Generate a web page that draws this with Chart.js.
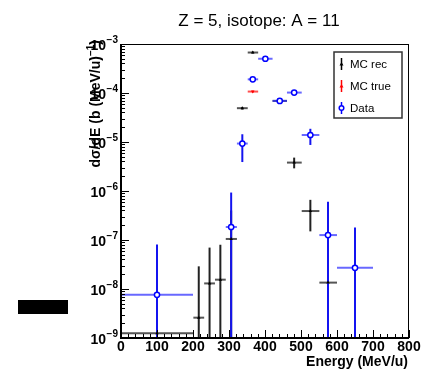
<!DOCTYPE html>
<html><head><meta charset="utf-8">
<script src="https://cdn.jsdelivr.net/npm/chart.js@4/dist/chart.umd.min.js"></script>
<style>html,body{margin:0;padding:0;background:#fff}#wrap{width:422px;height:369px;position:relative}</style>
</head><body><div id="wrap"><canvas id="c" width="422" height="369"></canvas></div>
<script>
// ---- data ----
const recX   = [100, 216, 246, 276, 306, 337, 366, 441, 481, 526, 575];
const recXLo = [0, 201, 231, 261, 291, 322, 352, 421, 461, 502, 551];
const recXHi = [200, 231, 261, 291, 322, 352, 381, 461, 502, 551, 600];
const recY   = [1.25e-9, 2.6e-9, 1.3e-8, 1.55e-8, 1.05e-7, 4.9e-5, 6.7e-4, 6.9e-5, 3.8e-6, 3.9e-7, 1.35e-8];
const recYLo = [1e-10, 1e-10, 1e-10, 1e-10, 1e-10, 4.6e-5, 6.4e-4, 6.2e-5, 2.9e-6, 1.5e-7, 1.0e-8];
const recYHi = [2e-9, 2.9e-8, 7e-8, 8e-8, 4e-7, 5.2e-5, 7.0e-4, 7.6e-5, 4.8e-6, 6.6e-7, 1.8e-8];

const trueX   = [366];
const trueXLo = [352];
const trueXHi = [381];
const trueY   = [1.07e-4];
const trueYLo = [1.03e-4];
const trueYHi = [1.11e-4];

const dataX   = [100, 306, 337, 366, 401, 441, 481, 526, 575, 650];
const dataXLo = [0, 291, 322, 352, 381, 421, 461, 502, 551, 600];
const dataXHi = [200, 322, 352, 381, 421, 461, 502, 551, 600, 700];
const dataY   = [7.6e-9, 1.84e-7, 9.3e-6, 1.9e-4, 5.0e-4, 6.9e-5, 1.02e-4, 1.39e-5, 1.26e-7, 2.7e-8];
const dataYLo = [1e-10, 1e-10, 3.9e-6, 1.8e-4, 4.8e-4, 6.0e-5, 9.6e-5, 8.7e-6, 1e-10, 1e-10];
const dataYHi = [8.1e-8, 9.3e-7, 1.44e-5, 2.0e-4, 5.2e-4, 7.8e-5, 1.08e-4, 1.86e-5, 6e-7, 1.8e-7];

const xTicks = [0, 100, 200, 300, 400, 500, 600, 700, 800];
const yExps  = [-3, -4, -5, -6, -7, -8, -9];
const titleText = 'Z = 5, isotope: A = 11';
const xTitle = 'Energy (MeV/u)';
const legendLabels = ['MC rec', 'MC true', 'Data'];

function pts(xs, ys, xlo, xhi, ylo, yhi) {
  return xs.map((x, i) => ({x: x, y: ys[i], xlo: xlo[i], xhi: xhi[i], ylo: ylo[i], yhi: yhi[i]}));
}

const FONT = '"Liberation Sans", Arial, Helvetica, sans-serif';

const errPlugin = {
  id: 'err',
  beforeDatasetsDraw(chart) {
    const {ctx, chartArea: a, scales: {x, y}} = chart;
    ctx.save();
    ctx.beginPath(); ctx.rect(a.left, a.top, a.right - a.left, a.bottom - a.top); ctx.clip();
    [0, 1, 2].forEach(di => {
      const ds = chart.data.datasets[di];
      ds.data.forEach(p => {
        const px = x.getPixelForValue(p.x), py = y.getPixelForValue(p.y);
        const x0 = x.getPixelForValue(p.xlo), x1 = x.getPixelForValue(p.xhi);
        const y0 = Math.min(a.bottom + 2, y.getPixelForValue(p.ylo)), y1 = y.getPixelForValue(p.yhi);
        ctx.lineWidth = 2;
        ctx.strokeStyle = ds.hColor;
        ctx.beginPath(); ctx.moveTo(x0, py); ctx.lineTo(x1, py); ctx.stroke();
        ctx.strokeStyle = ds.vColor;
        ctx.beginPath(); ctx.moveTo(px, y0); ctx.lineTo(px, y1); ctx.stroke();
      });
    });
    ctx.restore();
  },
  afterDraw(chart) {
    const {ctx, chartArea: a, scales: {x, y}} = chart;
    ctx.save();
    ctx.strokeStyle = '#000';
    ctx.lineWidth = 1;
    ctx.strokeRect(a.left + 0.5, a.top + 0.5, a.right - a.left - 1, a.bottom - a.top);
    ctx.lineWidth = 2;
    ctx.beginPath(); ctx.moveTo(a.left, a.top); ctx.lineTo(a.left, a.bottom); ctx.lineTo(a.right, a.bottom); ctx.stroke();
    ctx.lineWidth = 1;
    for (let v = 0; v <= 800; v += 20) {
      const px = Math.round(x.getPixelForValue(v)) + 0.5;
      const len = (v % 100 === 0) ? 8 : 4;
      ctx.beginPath(); ctx.moveTo(px, a.bottom); ctx.lineTo(px, a.bottom - len); ctx.stroke();
    }
    for (let e = -9; e < -3; e++) {
      for (let m = 1; m <= 9; m++) {
        const py = Math.round(y.getPixelForValue(m * Math.pow(10, e))) + 0.5;
        const len = (m === 1) ? 8 : 4;
        ctx.beginPath(); ctx.moveTo(a.left, py); ctx.lineTo(a.left + len, py); ctx.stroke();
      }
    }
    ctx.fillStyle = '#000';
    ctx.font = 'bold 14px ' + FONT;
    ctx.textAlign = 'center'; ctx.textBaseline = 'alphabetic';
    xTicks.forEach(v => ctx.fillText(String(v), x.getPixelForValue(v), a.bottom + 13));
    yExps.forEach(e => {
      const py = y.getPixelForValue(Math.pow(10, e));
      ctx.font = 'bold 10px ' + FONT;
      ctx.textAlign = 'right';
      const es = '\u2212' + String(-e);
      ctx.fillText(es, 118, py - 1);
      const ew = ctx.measureText(es).width;
      ctx.font = 'bold 14px ' + FONT;
      ctx.fillText('10', 118 - ew - 0.5, py + 6);
    });
    ctx.font = '17px ' + FONT;
    ctx.textAlign = 'center';
    ctx.fillText(titleText, 259, 26);
    ctx.font = 'bold 14px ' + FONT;
    ctx.textAlign = 'right';
    ctx.fillText(xTitle, 408, 366);
    const parts = [['d\u03c3/dE (b (MeV/u)', 'bold 14px ', 0], ['\u22121', 'bold 10px ', -6], [')', 'bold 14px ', 0]];
    let W = 0;
    parts.forEach(p => { ctx.font = p[1] + FONT; W += ctx.measureText(p[0]).width; });
    ctx.save();
    ctx.translate(100, 40 + W);
    ctx.rotate(-Math.PI / 2);
    ctx.textAlign = 'left';
    let cx = 0;
    parts.forEach(p => { ctx.font = p[1] + FONT; ctx.fillText(p[0], cx, p[2]); cx += ctx.measureText(p[0]).width; });
    ctx.restore();
    ctx.fillStyle = '#fff';
    ctx.fillRect(334, 52, 68, 66);
    ctx.strokeStyle = '#333'; ctx.lineWidth = 1.5;
    ctx.strokeRect(334, 52, 68, 66);
    const lys = [64, 86, 108];
    const lcol = ['#000', '#ff0000', '#0000ff'];
    ctx.font = '11.5px ' + FONT;
    ctx.textAlign = 'left';
    legendLabels.forEach((t, i) => {
      const ly = lys[i];
      ctx.strokeStyle = lcol[i]; ctx.lineWidth = 1.5;
      ctx.beginPath(); ctx.moveTo(341.5, ly - 6); ctx.lineTo(341.5, ly + 6); ctx.stroke();
      if (i === 2) {
        ctx.fillStyle = '#fff'; ctx.beginPath(); ctx.arc(341.5, ly, 2.3, 0, Math.PI * 2); ctx.fill(); ctx.stroke();
      } else {
        ctx.fillStyle = lcol[i]; ctx.beginPath(); ctx.moveTo(341.5, ly - 2); ctx.lineTo(343.5, ly + 1.5); ctx.lineTo(339.5, ly + 1.5); ctx.closePath(); ctx.fill();
      }
      ctx.fillStyle = '#000';
      ctx.fillText(t, 350, ly + 4);
    });
    ctx.fillStyle = '#000';
    ctx.fillRect(18, 300, 50, 14);
    ctx.restore();
  }
};

new Chart(document.getElementById('c'), {
  type: 'scatter',
  data: {
    datasets: [
      {label: 'MC rec', data: pts(recX, recY, recXLo, recXHi, recYLo, recYHi), order: 3,
       pointStyle: 'triangle', pointRadius: 2, backgroundColor: '#000', borderColor: '#000', borderWidth: 0,
       hColor: '#555', vColor: '#222'},
      {label: 'MC true', data: pts(trueX, trueY, trueXLo, trueXHi, trueYLo, trueYHi), order: 2,
       pointStyle: 'triangle', pointRadius: 2, rotation: 180, backgroundColor: '#ff0000', borderColor: '#ff0000', borderWidth: 0,
       hColor: '#ff5050', vColor: '#ff0000'},
      {label: 'Data', data: pts(dataX, dataY, dataXLo, dataXHi, dataYLo, dataYHi), order: 1,
       pointStyle: 'circle', pointRadius: 2.6, backgroundColor: '#fff', borderColor: '#0000ff', borderWidth: 1.5,
       hColor: 'rgba(40,40,255,0.7)', vColor: '#1414f0'}
    ]
  },
  options: {
    responsive: false, animation: false, devicePixelRatio: 1,
    layout: {padding: {left: 121, right: 13, top: 44, bottom: 31}},
    plugins: {legend: {display: false}, tooltip: {enabled: false}},
    scales: {
      x: {type: 'linear', min: 0, max: 800, display: false},
      y: {type: 'logarithmic', min: 1e-9, max: 1e-3, display: false}
    }
  },
  plugins: [errPlugin]
});
</script>
</body></html>
